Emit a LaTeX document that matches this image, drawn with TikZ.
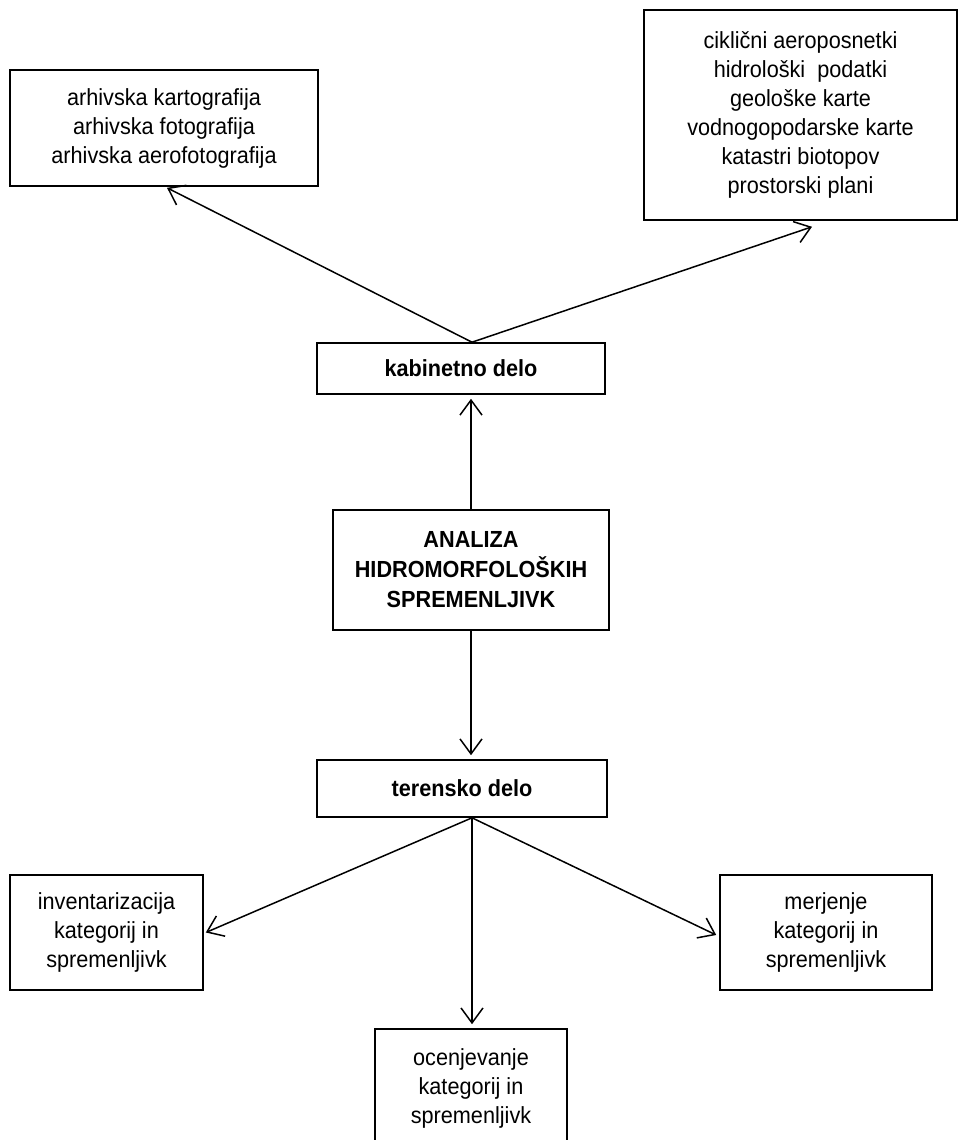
\documentclass[tikz,border=0pt]{standalone}
\usepackage{fontspec}
\setmainfont[FakeStretch=0.93]{Liberation Sans}
\usetikzlibrary{arrows.meta}
\tikzset{
  box/.style={draw, line width=1.6pt, inner sep=0pt, align=center,
    font=\fontsize{23.3}{29}\selectfont},
  bbox/.style={box, font=\fontsize{23.3}{30}\selectfont\bfseries},
  arr/.style={line width=1.5pt, -{Straight Barb[length=15pt,width=22pt,line width=1.5pt]}},
}
\begin{document}
\begin{tikzpicture}[x=1pt,y=-1pt]
\useasboundingbox (0,0) rectangle (960,1140);
\node[box, minimum width=308pt, minimum height=116pt] (arch) at (164,128)
  {arhivska kartografija\\arhivska fotografija\\arhivska aerofotografija};
\node[box, minimum width=313pt, minimum height=210pt] (data) at (800.5,115)
  {ciklični aeroposnetki\\hidrološki\ \ podatki\\geološke karte\\vodnogopodarske karte\\katastri biotopov\\prostorski plani};
\node[bbox, minimum width=288pt, minimum height=51pt] (kab) at (461,368.5) {kabinetno delo};
\node[bbox, minimum width=276pt, minimum height=120pt] (ana) at (471,570)
  {ANALIZA\\HIDROMORFOLOŠKIH\\SPREMENLJIVK};
\node[bbox, minimum width=290pt, minimum height=57pt] (ter) at (462,788.5) {terensko delo};
\node[box, minimum width=193pt, minimum height=115pt] (inv) at (106.5,932.5)
  {inventarizacija\\kategorij in\\spremenljivk};
\node[box, minimum width=212pt, minimum height=115pt] (mer) at (826,932.5)
  {merjenje\\kategorij in\\spremenljivk};
\node[box, minimum width=192pt, minimum height=118pt] (oce) at (471,1088)
  {ocenjevanje\\kategorij in\\spremenljivk};
\coordinate (kt) at ([xshift=11pt]kab.north);
\coordinate (tb) at ([xshift=10pt]ter.south);
\draw[arr] (kt) -- ([xshift=3pt,yshift=-1pt]arch.south);
\draw[arr] (kt) -- ([xshift=11.5pt,yshift=-6pt]data.south);
\draw[arr] (ana.north) -- ([xshift=10pt,yshift=-4pt]kab.south);
\draw[arr] (ana.south) -- ([xshift=9pt,yshift=4pt]ter.north);
\draw[arr] (tb) -- ([xshift=2pt]inv.east);
\draw[arr] (tb) -- ([xshift=-3pt,yshift=-2.5pt]mer.west);
\draw[arr] (tb) -- ([xshift=1pt,yshift=4pt]oce.north);
\end{tikzpicture}
\end{document}
